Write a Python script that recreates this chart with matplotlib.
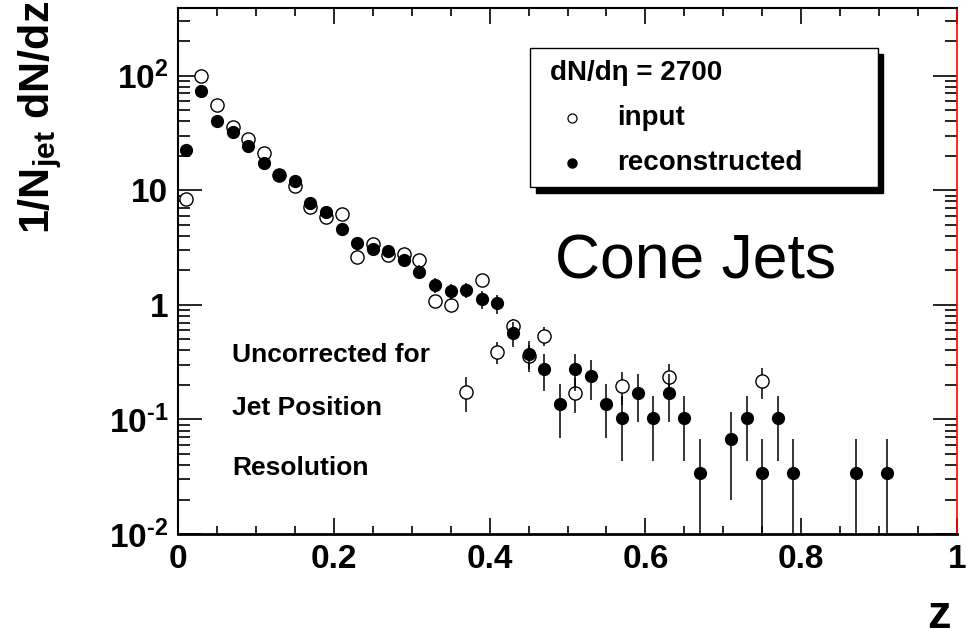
import numpy as np
import matplotlib
matplotlib.use("Agg")
import matplotlib.pyplot as plt
from matplotlib.patches import Rectangle
from matplotlib.ticker import FixedLocator, FixedFormatter, LogLocator, MultipleLocator, NullFormatter

plt.rcParams["font.family"] = ["Liberation Sans", "DejaVu Sans"]
plt.rcParams["mathtext.fontset"] = "custom"
plt.rcParams["mathtext.rm"] = "Liberation Sans"
plt.rcParams["mathtext.bf"] = "Liberation Sans:bold"
plt.rcParams["mathtext.it"] = "Liberation Sans:italic"

# --- data (bin centres in z, bin width 0.02) ---
z_reco = [0.01, 0.03, 0.05, 0.07, 0.09, 0.11, 0.13, 0.15, 0.17, 0.19,
          0.21, 0.23, 0.25, 0.27, 0.29, 0.31, 0.33, 0.35, 0.37, 0.39,
          0.41, 0.43, 0.45, 0.47, 0.49, 0.51, 0.53, 0.55, 0.57, 0.59,
          0.61, 0.63, 0.65, 0.67, 0.71, 0.73, 0.75, 0.77, 0.79, 0.87,
          0.91]
y_reco = [22.6, 74, 40, 32, 24.5, 17.3, 13.7, 12.1, 7.8, 6.4,
          4.6, 3.5, 3.07, 2.95, 2.47, 1.95, 1.50, 1.31, 1.35, 1.12,
          1.03, 0.57, 0.37, 0.273, 0.137, 0.273, 0.239, 0.137, 0.102, 0.171,
          0.102, 0.171, 0.102, 0.034, 0.068, 0.102, 0.034, 0.102, 0.034, 0.034,
          0.034]
e_reco = [0.88, 1.59, 1.17, 1.04, 0.91, 0.77, 0.68, 0.64, 0.52, 0.47,
          0.40, 0.35, 0.32, 0.32, 0.29, 0.26, 0.23, 0.21, 0.21, 0.20,
          0.19, 0.14, 0.11, 0.096, 0.068, 0.096, 0.090, 0.068, 0.059, 0.076,
          0.059, 0.076, 0.059, 0.034, 0.048, 0.059, 0.034, 0.059, 0.034, 0.034,
          0.034]

z_inp = [0.01, 0.03, 0.05, 0.07, 0.09, 0.11, 0.13, 0.15, 0.17, 0.19,
         0.21, 0.23, 0.25, 0.27, 0.29, 0.31, 0.33, 0.35, 0.37, 0.39,
         0.41, 0.43, 0.45, 0.47, 0.51, 0.57, 0.63, 0.75]
y_inp = [8.4, 100, 55, 36, 28, 21, 13.5, 10.8, 7.2, 5.9,
         6.2, 2.6, 3.4, 2.75, 2.8, 2.45, 1.07, 1.0, 0.175, 1.65,
         0.39, 0.65, 0.36, 0.54, 0.171, 0.196, 0.236, 0.217]
e_inp = [0.40, 1.40, 1.04, 0.84, 0.74, 0.64, 0.51, 0.46, 0.37, 0.34,
         0.35, 0.23, 0.26, 0.23, 0.23, 0.22, 0.14, 0.14, 0.058, 0.18,
         0.087, 0.11, 0.084, 0.10, 0.058, 0.062, 0.068, 0.065]

x_ticks = [0, 0.2, 0.4, 0.6, 0.8, 1]
x_labels = ["0", "0.2", "0.4", "0.6", "0.8", "1"]
y_ticks = [0.01, 0.1, 1, 10, 100]
y_labels = ["$\\mathbf{10^{\u2010 2}}$", "$\\mathbf{10^{\u2010 1}}$", "1", "10",
            r"$\mathbf{10^{2}}$"]

W, H = 969, 639
fig = plt.figure(figsize=(W / 100, H / 100), dpi=100)
ax = fig.add_axes([178 / W, 1 - 534 / H, 779 / W, 526 / H])

ax.errorbar(z_inp, y_inp, yerr=e_inp, fmt="o", ms=9.5, mfc="white", mec="black",
            mew=1.0, ecolor="black", elinewidth=1.1, capsize=0, zorder=3)
ax.errorbar(z_reco, y_reco, yerr=e_reco, fmt="o", ms=8.5, mfc="black", mec="black",
            ecolor="black", elinewidth=1.1, capsize=0, zorder=4)

ax.set_yscale("log")
ax.set_xlim(0, 1)
ax.set_ylim(0.01, 390)

ax.xaxis.set_major_locator(FixedLocator(x_ticks))
ax.xaxis.set_major_formatter(FixedFormatter(x_labels))
ax.xaxis.set_minor_locator(MultipleLocator(0.05))
ax.yaxis.set_major_locator(FixedLocator(y_ticks))
ax.yaxis.set_major_formatter(FixedFormatter(y_labels))
ax.yaxis.set_minor_locator(LogLocator(base=10, subs=np.arange(2, 10), numticks=20))
ax.yaxis.set_minor_formatter(NullFormatter())

ax.tick_params(axis="both", which="both", direction="in", top=True, right=True,
               width=1.2, color="black")
ax.tick_params(axis="x", which="major", length=11.5, pad=7)
ax.tick_params(axis="x", which="minor", length=5.8)
ax.tick_params(axis="y", which="major", length=17, pad=7)
ax.tick_params(axis="y", which="minor", length=8.6)
for lab in ax.get_xticklabels() + ax.get_yticklabels():
    lab.set_fontsize(24)
    lab.set_fontweight("bold")

for s in ["left", "top"]:
    ax.spines[s].set_linewidth(1.5)
ax.spines["bottom"].set_linewidth(2.0)
ax.spines["right"].set_color("red")
ax.spines["right"].set_linewidth(1.2)

# axis titles
fig.text(40 / W, 1 - 1 / H, r"$\mathbf{1/N_{jet}\ dN/dz}$", rotation=90,
         ha="center", va="top", fontsize=31)
fig.text(939 / W, 1 - 628 / H, "z", ha="center", va="baseline",
         fontsize=34, fontweight="bold")

# legend box with hard shadow
bx0, by0, bx1, by1 = 0.452, 0.6597, 0.8986, 0.924
ax.add_patch(Rectangle((bx0 + 0.007, by0 - 0.011), bx1 - bx0, by1 - by0,
                       transform=ax.transAxes, facecolor="black", edgecolor="black",
                       zorder=6, clip_on=False))
ax.add_patch(Rectangle((bx0, by0), bx1 - bx0, by1 - by0, transform=ax.transAxes,
                       facecolor="white", edgecolor="black", lw=1.0, zorder=7,
                       clip_on=False))
ax.text(0.4775, 0.876, "dN/dη = 2700", transform=ax.transAxes, ha="left",
        va="center", fontsize=20, fontweight="bold", zorder=8)
ax.plot([0.5058], [0.791], "o", ms=6.5, mfc="white", mec="black", mew=0.9,
        transform=ax.transAxes, zorder=8, clip_on=False)
ax.plot([0.5058], [0.705], "o", ms=6.5, mfc="black", mec="black",
        transform=ax.transAxes, zorder=8, clip_on=False)
ax.text(0.5636, 0.791, "input", transform=ax.transAxes, ha="left", va="center",
        fontsize=20, fontweight="bold", zorder=8)
ax.text(0.5636, 0.705, "reconstructed", transform=ax.transAxes, ha="left",
        va="center", fontsize=20, fontweight="bold", zorder=8)

ax.text(0.484, 0.517, "Cone Jets", transform=ax.transAxes, ha="left", va="center",
        fontsize=45)

ax.text(0.0693, 0.340, "Uncorrected for", transform=ax.transAxes, ha="left",
        va="center", fontsize=19, fontweight="bold")
ax.text(0.0693, 0.2395, "Jet Position", transform=ax.transAxes, ha="left",
        va="center", fontsize=19, fontweight="bold")
ax.text(0.0693, 0.1255, "Resolution", transform=ax.transAxes, ha="left",
        va="center", fontsize=19, fontweight="bold")

fig.savefig("out.png", dpi=100)
